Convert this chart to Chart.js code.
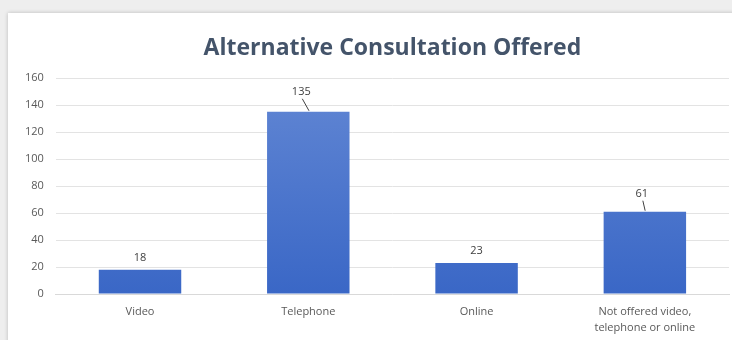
<!DOCTYPE html>
<html>
<head>
<meta charset="utf-8">
<script src="https://cdn.jsdelivr.net/npm/chart.js@4"></script>
<style>
  html, body { margin: 0; padding: 0; }
  body { width: 732px; height: 340px; background: #eeeeee; position: relative; overflow: hidden; }
  .card { position: absolute; left: 8px; top: 13px; width: 760px; height: 360px; background: #fff;
          box-shadow: 0 0 4px rgba(0,0,0,0.22); }
  #wrap { position: absolute; left: 0; top: 0; width: 732px; height: 338px; }
</style>
</head>
<body>
<div class="card"></div>
<div id="wrap"><canvas id="chart"></canvas></div>
<script>
// categories and counts
const categories = ['Video', 'Telephone', 'Online', ['Not offered video,', 'telephone or online']];
const counts = [18, 135, 23, 61];
const yTicks = [0, 20, 40, 60, 80, 100, 120, 140, 160];
const chartTitle = 'Alternative Consultation Offered';

// value labels that were pulled away from their bar get a leader line
const labelShift = [[0, 0], [-7, -8], [0, 0], [-3, -6]];

const FONT = "'Open Sans', 'Liberation Sans', sans-serif";

// title centred over the plot area rather than the whole canvas
const plotTitle = {
  id: 'plotTitle',
  afterDraw(chart) {
    const { ctx, chartArea } = chart;
    ctx.save();
    ctx.font = 'bold 23px ' + FONT;
    ctx.fillStyle = '#44546a';
    ctx.textAlign = 'center';
    ctx.textBaseline = 'middle';
    ctx.fillText(chartTitle, (chartArea.left + chartArea.right) / 2, chartArea.top - 30);
    ctx.restore();
  }
};

const valueLabels = {
  id: 'valueLabels',
  afterDatasetsDraw(chart) {
    const ctx = chart.ctx;
    const meta = chart.getDatasetMeta(0);
    ctx.save();
    ctx.font = '11px ' + FONT;
    ctx.fillStyle = '#404040';
    ctx.textAlign = 'center';
    ctx.textBaseline = 'middle';
    meta.data.forEach((bar, i) => {
      const [dx, dy] = labelShift[i];
      const x = bar.x + dx;
      const y = bar.y - 12 + dy;
      ctx.fillText(String(counts[i]), x, y);
      if (dx || dy) {
        ctx.strokeStyle = '#404040';
        ctx.lineWidth = 1;
        ctx.beginPath();
        ctx.moveTo(x + 1, y + 7);
        ctx.lineTo(bar.x - dx * 0.1, bar.y - 1);
        ctx.stroke();
      }
    });
    ctx.restore();
  }
};

function barFill(context) {
  const area = context.chart.chartArea;
  if (!area) return '#4472c4';
  const g = context.chart.ctx.createLinearGradient(0, area.top, 0, area.bottom);
  g.addColorStop(0, '#6287d4');
  g.addColorStop(1, '#3a67c6');
  return g;
}

new Chart(document.getElementById('chart'), {
  type: 'bar',
  data: {
    labels: categories,
    datasets: [{
      data: counts,
      backgroundColor: barFill,
      borderWidth: 0,
      categoryPercentage: 1,
      barPercentage: 0.49
    }]
  },
  plugins: [valueLabels, plotTitle],
  options: {
    responsive: true,
    maintainAspectRatio: false,
    animation: false,
    layout: { padding: { left: 13, right: 3, top: 78, bottom: 0 } },
    plugins: {
      legend: { display: false },
      tooltip: { enabled: false },
      title: { display: false }
    },
    scales: {
      x: {
        grid: { display: false },
        border: { color: '#d9d9d9' },
        ticks: { color: '#595959', font: { family: FONT, size: 11, lineHeight: 1.45 }, padding: 2, maxRotation: 0 }
      },
      y: {
        min: 0,
        max: 160,
        afterBuildTicks(axis) { axis.ticks = yTicks.map(v => ({ value: v })); },
        grid: { color: '#e3e3e3', drawTicks: false },
        border: { display: false },
        ticks: { color: '#595959', font: { family: FONT, size: 11 }, padding: 12 }
      }
    }
  }
});
</script>
</body>
</html>
